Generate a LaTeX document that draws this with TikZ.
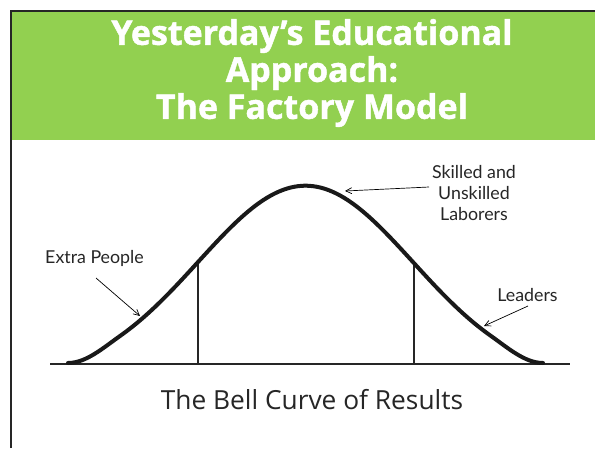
\documentclass[tikz,border=0pt]{standalone}
\usepackage{fontspec}
\setmainfont{Open Sans}
\newfontfamily\titlefont{Open Sans}[BoldFeatures={FakeBold=1.3}]
\newfontfamily\labelfont{Lato}
\usetikzlibrary{arrows.meta}
\definecolor{hdrgreen}{HTML}{92D050}
\tikzset{
  lbl/.style={font=\labelfont\fontsize{17.8}{21}\selectfont, text=black!85, align=center, inner sep=0pt},
  ptr/.style={draw=black, line width=0.7pt, -{Straight Barb[length=6pt,width=6pt]}},
}
\begin{document}
\begin{tikzpicture}[x=1pt,y=-1pt]
\useasboundingbox (0,0) rectangle (595,448);
\fill[white] (0,0) rectangle (595,448);
% frame
\draw[line width=2.4pt, black!85] (11,448) -- (11,11) -- (595,11);
% header band
\fill[hdrgreen] (12.2,12.2) rectangle (595,140);
\node[font=\titlefont\bfseries\fontsize{34}{37}\selectfont, text=white, align=center, inner sep=0pt] (title) at (312,73)
  {Yesterday’s Educational\\Approach:\\The Factory Model};
% axis
\draw[line width=1.5pt, black!85] (50,364) -- (570,364);
% verticals
\draw[line width=1.2pt, black!85] (198,262) -- (198,364);
\draw[line width=1.2pt, black!85] (414,262) -- (414,364);
% bell curve
\draw[line width=4pt, black!90, line cap=round, line join=round]
  (68,363) .. controls (86,363) and (103,348) .. (120,336)
  -- plot[domain=120:491, samples=120]
  (\x, {362.5 - 194*(exp(-0.5*((\x-305.5)/107.5)^2) - 0.0889)})
  .. controls (508,348) and (525,363) .. (543,363);
% targets on curve
\coordinate (tPeak) at (345,191);
\coordinate (tLeft) at (140,316);
\coordinate (tRight) at (484,326);
% labels
\node[lbl] (skilled) at (474,193) {Skilled and\\Unskilled\\Laborers};
\node[lbl] (extra) at (94.5,258) {Extra People};
\node[lbl] (leaders) at (527.5,295) {Leaders};
\draw[ptr] (429,187) -- (tPeak);
\draw[ptr] (96,278) -- (tLeft);
\draw[ptr] (528,306) -- (tRight);
% caption
\node[font=\fontsize{26.3}{30}\selectfont, text=black!85, inner sep=0pt] (caption) at (312,400) {The Bell Curve of Results};
\end{tikzpicture}
\end{document}
